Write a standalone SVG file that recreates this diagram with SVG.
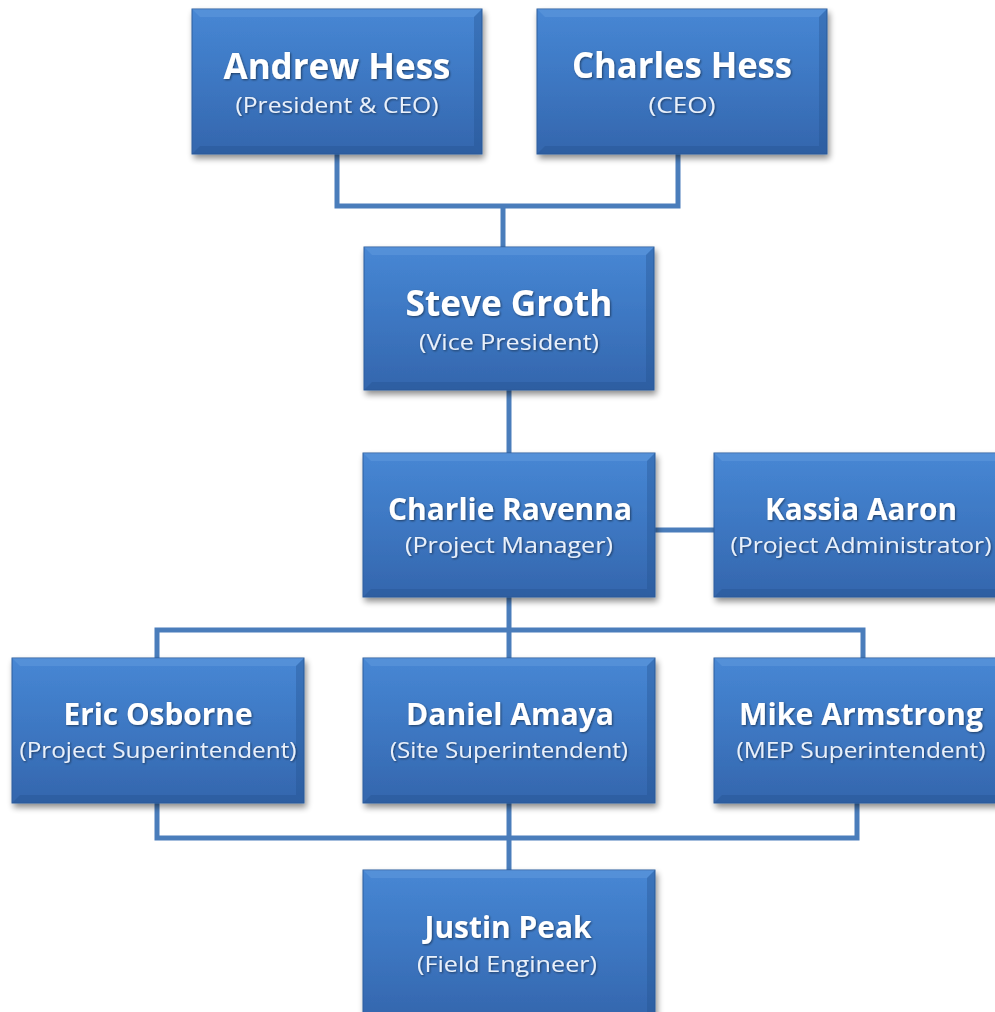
<svg xmlns="http://www.w3.org/2000/svg" width="995" height="1012" viewBox="0 0 995 1012">
<defs>
<linearGradient id="fill" x1="0" y1="0" x2="0" y2="1">
<stop offset="0" stop-color="#4787d4"/>
<stop offset="0.5" stop-color="#3d77c2"/>
<stop offset="1" stop-color="#3466ad"/>
</linearGradient>
<filter id="shadow" x="-10%" y="-10%" width="125%" height="130%">
<feGaussianBlur in="SourceAlpha" stdDeviation="3"/>
<feOffset dx="2" dy="4" result="b"/>
<feComponentTransfer><feFuncA type="linear" slope="0.45"/></feComponentTransfer>
<feMerge><feMergeNode/><feMergeNode in="SourceGraphic"/></feMerge>
</filter>
<filter id="glow" x="-5%" y="-20%" width="110%" height="140%">
<feGaussianBlur in="SourceAlpha" stdDeviation="1"/>
<feOffset dx="0.5" dy="1" result="o"/>
<feComponentTransfer><feFuncA type="linear" slope="0.5"/></feComponentTransfer>
<feMerge><feMergeNode/><feMergeNode in="SourceGraphic"/></feMerge>
</filter>
</defs>
<style>
.box{fill:url(#fill);stroke:#2e5f9e;stroke-width:1;filter:url(#shadow)}
.hl{fill:#6aa1e0;opacity:0.4}
.dk{fill:#23508c;opacity:0.35}
.name{font-family:"Open Sans","Liberation Sans",sans-serif;font-weight:bold;fill:#ffffff;text-anchor:middle;filter:url(#glow)}
.big{font-size:35px}
.mid{font-size:31px}
.sub{font-family:"Open Sans","Liberation Sans",sans-serif;font-size:21px;fill:#e9f0fa;text-anchor:middle;filter:url(#glow)}
.conn{fill:none;stroke:#4a7dbb;stroke-width:5;stroke-linejoin:miter;stroke-linecap:butt}
</style>
<rect width="995" height="1012" fill="#ffffff"/>
<g id="connectors">
<path class="conn" d="M337 154 V206 H678 V154"/>
<path class="conn" d="M503 206 V247"/>
<path class="conn" d="M509 390 V453"/>
<path class="conn" d="M655 530 H714"/>
<path class="conn" d="M509 597 V658"/>
<path class="conn" d="M157 658 V630 H863 V658"/>
<path class="conn" d="M157 803 V838 H857 V803"/>
<path class="conn" d="M509 803 V870"/>
</g>
<g id="andrew">
<rect class="box" x="192" y="9" width="290" height="145"/>
<polygon class="hl" points="192,9 482,9 474,17 200,17"/>
<polygon class="dk" points="192,154 200,146 474,146 482,154"/>
<polygon class="dk" points="482,9 482,154 474,146 474,17"/>
<text class="name big" x="337" y="79" textLength="227" lengthAdjust="spacingAndGlyphs">Andrew Hess</text>
<text class="sub" x="337" y="113" textLength="203" lengthAdjust="spacingAndGlyphs">(President &amp; CEO)</text>
</g>
<g id="charles">
<rect class="box" x="537" y="9" width="290" height="145"/>
<polygon class="hl" points="537,9 827,9 819,17 545,17"/>
<polygon class="dk" points="537,154 545,146 819,146 827,154"/>
<polygon class="dk" points="827,9 827,154 819,146 819,17"/>
<text class="name big" x="682" y="78" textLength="220" lengthAdjust="spacingAndGlyphs">Charles Hess</text>
<text class="sub" x="682" y="113" textLength="67" lengthAdjust="spacingAndGlyphs">(CEO)</text>
</g>
<g id="steve">
<rect class="box" x="364" y="247" width="290" height="143"/>
<polygon class="hl" points="364,247 654,247 646,255 372,255"/>
<polygon class="dk" points="364,390 372,382 646,382 654,390"/>
<polygon class="dk" points="654,247 654,390 646,382 646,255"/>
<text class="name big" x="509" y="316" textLength="207" lengthAdjust="spacingAndGlyphs">Steve Groth</text>
<text class="sub" x="509" y="350" textLength="180" lengthAdjust="spacingAndGlyphs">(Vice President)</text>
</g>
<g id="charlie">
<rect class="box" x="363" y="453" width="292" height="144"/>
<polygon class="hl" points="363,453 655,453 647,461 371,461"/>
<polygon class="dk" points="363,597 371,589 647,589 655,597"/>
<polygon class="dk" points="655,453 655,597 647,589 647,461"/>
<text class="name mid" x="510" y="520" textLength="244" lengthAdjust="spacingAndGlyphs">Charlie Ravenna</text>
<text class="sub" x="509" y="553" textLength="208" lengthAdjust="spacingAndGlyphs">(Project Manager)</text>
</g>
<g id="kassia">
<rect class="box" x="714" y="453" width="292" height="144"/>
<polygon class="hl" points="714,453 1006,453 998,461 722,461"/>
<polygon class="dk" points="714,597 722,589 998,589 1006,597"/>
<text class="name mid" x="861" y="520" textLength="192" lengthAdjust="spacingAndGlyphs">Kassia Aaron</text>
<text class="sub" x="861" y="553" textLength="261" lengthAdjust="spacingAndGlyphs">(Project Administrator)</text>
</g>
<g id="eric">
<rect class="box" x="12" y="658" width="292" height="145"/>
<polygon class="hl" points="12,658 304,658 296,666 20,666"/>
<polygon class="dk" points="12,803 20,795 296,795 304,803"/>
<polygon class="dk" points="304,658 304,803 296,795 296,666"/>
<text class="name mid" x="158" y="725" textLength="189" lengthAdjust="spacingAndGlyphs">Eric Osborne</text>
<text class="sub" x="158" y="758" textLength="277" lengthAdjust="spacingAndGlyphs">(Project Superintendent)</text>
</g>
<g id="daniel">
<rect class="box" x="363" y="658" width="292" height="145"/>
<polygon class="hl" points="363,658 655,658 647,666 371,666"/>
<polygon class="dk" points="363,803 371,795 647,795 655,803"/>
<polygon class="dk" points="655,658 655,803 647,795 647,666"/>
<text class="name mid" x="510" y="725" textLength="208" lengthAdjust="spacingAndGlyphs">Daniel Amaya</text>
<text class="sub" x="509" y="758" textLength="238" lengthAdjust="spacingAndGlyphs">(Site Superintendent)</text>
</g>
<g id="mike">
<rect class="box" x="714" y="658" width="292" height="145"/>
<polygon class="hl" points="714,658 1006,658 998,666 722,666"/>
<polygon class="dk" points="714,803 722,795 998,795 1006,803"/>
<text class="name mid" x="861" y="725" textLength="244" lengthAdjust="spacingAndGlyphs">Mike Armstrong</text>
<text class="sub" x="861" y="758" textLength="249" lengthAdjust="spacingAndGlyphs">(MEP Superintendent)</text>
</g>
<g id="justin">
<rect class="box" x="363" y="870" width="292" height="150"/>
<polygon class="hl" points="363,870 655,870 647,878 371,878"/>
<polygon class="dk" points="655,870 655,1020 647,1012 647,878"/>
<text class="name mid" x="508" y="938" textLength="167" lengthAdjust="spacingAndGlyphs">Justin Peak</text>
<text class="sub" x="507" y="972" textLength="180" lengthAdjust="spacingAndGlyphs">(Field Engineer)</text>
</g>
</svg>
